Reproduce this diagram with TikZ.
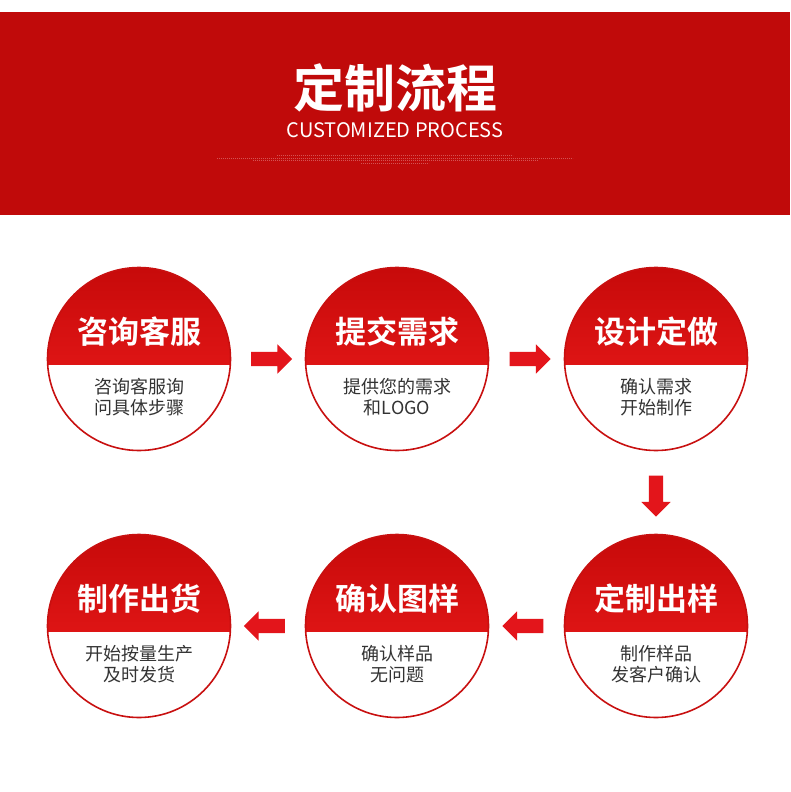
\documentclass[tikz,border=0pt]{standalone}
\usepackage{fontspec}
\setmainfont{Noto Sans CJK SC}
\newfontfamily\cjk{Noto Sans CJK SC}
\newfontfamily\cjkbold{Noto Sans CJK SC Bold}
\usepackage{xcolor}
\usetikzlibrary{shapes.arrows,calc,positioning}

\definecolor{bannerred}{HTML}{C00A0A}
\definecolor{circtop}{HTML}{C70A0A}
\definecolor{circbot}{HTML}{F21E1E}
\definecolor{rimred}{HTML}{C81010}
\definecolor{arrred}{HTML}{E3151B}
\definecolor{desctext}{HTML}{333333}

\begin{document}
\begin{tikzpicture}[
      x=1pt, y=-1pt,
      stepcircle/.style={circle, draw=rimred, line width=1.6pt, fill=white,
                 minimum size=183pt, inner sep=0pt,
                 path picture={\shade[top color=circtop, bottom color=circbot]
                   (path picture bounding box.north west) rectangle
                   ([yshift=-5pt]path picture bounding box.east);}},
      steptitle/.style={text=white, font=\cjkbold\fontsize{31pt}{34pt}\selectfont,
                 inner sep=0pt},
      stepdesc/.style={text=desctext, align=center, inner sep=0pt,
                 font=\cjk\fontsize{18pt}{21pt}\selectfont},
      blockarr/.style={single arrow, fill=arrred, draw=none,
                 inner xsep=0pt, inner ysep=7pt, text height=0pt, text depth=0pt,
                 text width=0pt, minimum height=41pt,
                 single arrow head extend=7.5pt, single arrow tip angle=90},
      dots/.style={white, opacity=0.3, line width=0.6pt,
                 dash pattern=on 1.2pt off 0.8pt}
    ]
    \useasboundingbox (0,0) rectangle (790,792);
    % banner
    \fill[bannerred] (0,12) rectangle (790,215);
    \node[text=white, font=\cjkbold\fontsize{51pt}{54pt}\selectfont, inner sep=0pt]
      (title) at (395,88) {定制流程};
    \node[text=white, font=\cjk\fontsize{20pt}{22pt}\selectfont, inner sep=0pt]
      (subtitle) at (395,130) {CUSTOMIZED PROCESS};
    \draw[dots] (277,155) -- (513,155);
    \draw[dots] (217,158) -- (573,158);
    \draw[dots] (253,160.5) -- (538,160.5);
    \draw[dots] (361,163) -- (429,163);

    % steps
    \node[stepcircle] (c1) at (139,359) {};
    \node[stepcircle] (c2) at (397,359) {};
    \node[stepcircle] (c3) at (656,359) {};
    \node[stepcircle] (c4) at (656,626) {};
    \node[stepcircle] (c5) at (397,626) {};
    \node[stepcircle] (c6) at (139,626) {};

    \node[steptitle] (t1) at ([yshift=27pt]c1.center) {咨询客服};
    \node[steptitle] (t2) at ([yshift=27pt]c2.center) {提交需求};
    \node[steptitle] (t3) at ([yshift=27pt]c3.center) {设计定做};
    \node[steptitle] (t4) at ([yshift=27pt]c4.center) {定制出样};
    \node[steptitle] (t5) at ([yshift=27pt]c5.center) {确认图样};
    \node[steptitle] (t6) at ([yshift=27pt]c6.center) {制作出货};

    \node[stepdesc] (d1) at ([yshift=-38pt]c1.center) {咨询客服询\\问具体步骤};
    \node[stepdesc] (d2) at ([yshift=-38pt]c2.center) {提供您的需求\\和LOGO};
    \node[stepdesc] (d3) at ([yshift=-38pt]c3.center) {确认需求\\开始制作};
    \node[stepdesc] (d4) at ([yshift=-38pt]c4.center) {制作样品\\发客户确认};
    \node[stepdesc] (d5) at ([yshift=-38pt]c5.center) {确认样品\\无问题};
    \node[stepdesc] (d6) at ([yshift=-38pt]c6.center) {开始按量生产\\及时发货};

    % arrows between steps
    \node[blockarr] (a12) at ($(c1)!0.5!(c2)$) {};
    \node[blockarr] (a23) at ($(c2)!0.5!(c3)$) {};
    \node[blockarr, rotate=-90] (a34) at ($(c3)!0.5!(c4)$) {};
    \node[blockarr, rotate=180] (a45) at ($(c4)!0.5!(c5)$) {};
    \node[blockarr, rotate=180] (a56) at ($(c5)!0.5!(c6)$) {};
  \end{tikzpicture}
\end{document}
